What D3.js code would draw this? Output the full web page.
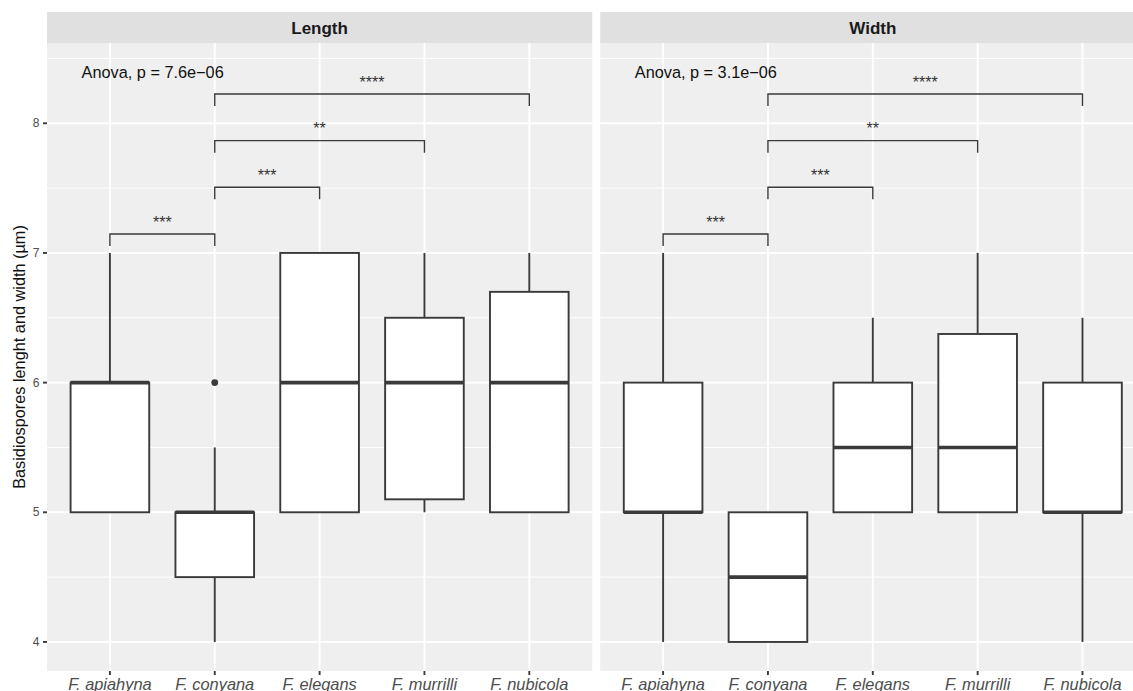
<!DOCTYPE html>
<html>
<head>
<meta charset="utf-8">
<script src="https://cdn.jsdelivr.net/npm/d3@7"></script>
<style>
  body { margin: 0; background: #fff; }
  text { font-family: "Liberation Sans", Arial, sans-serif; }
</style>
</head>
<body>
<script>
const species = ["F. apiahyna", "F. conyana", "F. elegans", "F. murrilli", "F. nubicola"];
const facets = ["Length", "Width"];
// five number summaries: [min, q1, median, q3, max]
const lengthStats = [[5, 5, 6, 6, 7], [4, 4.5, 5, 5, 5.5], [5, 5, 6, 7, 7], [5, 5.1, 6, 6.5, 7], [5, 5, 6, 6.7, 7]];
const widthStats = [[4, 5, 5, 6, 7], [4, 4, 4.5, 5, 5], [5, 5, 5.5, 6, 6.5], [5, 5, 5.5, 6.375, 7], [4, 5, 5, 6, 6.5]];
const lengthOutliers = [[1, 6]];   // [species index, value]
const widthOutliers = [];
const anovaLabels = ["Anova, p = 7.6e\u221206", "Anova, p = 3.1e\u221206"];
const bracketPairs = [[0, 1], [1, 2], [1, 3], [1, 4]];
const bracketY = [7.146, 7.507, 7.866, 8.226];
const bracketLabels = ["***", "***", "**", "****"];
const yTicks = [4, 5, 6, 7, 8];
const yMinor = [4.5, 5.5, 6.5, 7.5, 8.5];

const width = 1133, height = 691;
const panelLeft = 47, panelW = 545.2, gap = 8;
const stripTop = 12, panelTop = 43, panelBottom = 671;
const ink = "#3a3a3a";

const svg = d3.select("body").append("svg")
  .attr("width", width)
  .attr("height", height);

const y = d3.scaleLinear()
  .domain([3.776, 8.619])
  .range([panelBottom, panelTop]);

const x = d3.scalePoint()
  .domain(d3.range(species.length))
  .range([0, panelW])
  .padding(0.6);

const step = x.step();
const boxW = step * 0.75;
const tip = 0.0925; // bracket tip length in data units

const facetData = [
  {name: facets[0], stats: lengthStats, outliers: lengthOutliers, anova: anovaLabels[0]},
  {name: facets[1], stats: widthStats, outliers: widthOutliers, anova: anovaLabels[1]}
];

facetData.forEach(function(f, fi) {
  const g = svg.append("g")
    .attr("transform", "translate(" + (panelLeft + fi * (panelW + gap)) + ",0)");

  // strip
  g.append("rect")
    .attr("x", 0).attr("y", stripTop)
    .attr("width", panelW).attr("height", panelTop - stripTop)
    .attr("fill", "#e0e0e0");
  g.append("text")
    .attr("x", panelW / 2).attr("y", 33.5)
    .attr("text-anchor", "middle")
    .attr("font-size", 17).attr("font-weight", "bold")
    .attr("fill", "#1a1a1a")
    .text(f.name);

  // panel background + grid
  g.append("rect")
    .attr("x", 0).attr("y", panelTop)
    .attr("width", panelW).attr("height", panelBottom - panelTop)
    .attr("fill", "#efefef");

  g.selectAll(".minor").data(yMinor).enter().append("line")
    .attr("x1", 0).attr("x2", panelW)
    .attr("y1", d => y(d)).attr("y2", d => y(d))
    .attr("stroke", "#fff").attr("stroke-width", 1);
  g.selectAll(".major").data(yTicks).enter().append("line")
    .attr("x1", 0).attr("x2", panelW)
    .attr("y1", d => y(d)).attr("y2", d => y(d))
    .attr("stroke", "#fff").attr("stroke-width", 1.9);
  g.selectAll(".vgrid").data(d3.range(species.length)).enter().append("line")
    .attr("x1", d => x(d)).attr("x2", d => x(d))
    .attr("y1", panelTop).attr("y2", panelBottom)
    .attr("stroke", "#fff").attr("stroke-width", 1.9);

  // boxes
  const boxes = g.selectAll(".box").data(f.stats).enter().append("g");
  boxes.append("line")
    .attr("x1", (d, i) => x(i)).attr("x2", (d, i) => x(i))
    .attr("y1", d => y(d[3])).attr("y2", d => y(d[4]))
    .attr("stroke", ink).attr("stroke-width", 1.9);
  boxes.append("line")
    .attr("x1", (d, i) => x(i)).attr("x2", (d, i) => x(i))
    .attr("y1", d => y(d[1])).attr("y2", d => y(d[0]))
    .attr("stroke", ink).attr("stroke-width", 1.9);
  boxes.append("rect")
    .attr("x", (d, i) => x(i) - boxW / 2)
    .attr("y", d => y(d[3]))
    .attr("width", boxW)
    .attr("height", d => y(d[1]) - y(d[3]))
    .attr("fill", "#fff")
    .attr("stroke", ink).attr("stroke-width", 1.9);
  boxes.append("line")
    .attr("x1", (d, i) => x(i) - boxW / 2).attr("x2", (d, i) => x(i) + boxW / 2)
    .attr("y1", d => y(d[2])).attr("y2", d => y(d[2]))
    .attr("stroke", ink).attr("stroke-width", 3.6);

  g.selectAll(".out").data(f.outliers).enter().append("circle")
    .attr("cx", d => x(d[0])).attr("cy", d => y(d[1]))
    .attr("r", 3.4).attr("fill", ink);

  // anova label
  g.append("text")
    .attr("x", x(0) - 0.27 * step).attr("y", y(8.347))
    .attr("font-size", 16.3).attr("fill", "#111")
    .text(f.anova);

  // significance brackets
  bracketPairs.forEach(function(p, bi) {
    const x1 = x(p[0]), x2 = x(p[1]), by = bracketY[bi];
    g.append("path")
      .attr("d", "M" + x1 + "," + y(by - tip) + "V" + y(by) + "H" + x2 + "V" + y(by - tip))
      .attr("fill", "none").attr("stroke", ink).attr("stroke-width", 1.4);
    g.append("text")
      .attr("x", (x1 + x2) / 2).attr("y", y(by + 0.049))
      .attr("text-anchor", "middle")
      .attr("font-size", 16).attr("fill", "#333")
      .text(bracketLabels[bi]);
  });

  // x axis
  const xa = g.append("g").attr("transform", "translate(0," + panelBottom + ")");
  xa.selectAll("line").data(d3.range(species.length)).enter().append("line")
    .attr("x1", d => x(d)).attr("x2", d => x(d))
    .attr("y1", 0).attr("y2", 4)
    .attr("stroke", ink).attr("stroke-width", 1.9);
  xa.selectAll("text").data(species).enter().append("text")
    .attr("x", (d, i) => x(i)).attr("y", 18.5)
    .attr("text-anchor", "middle")
    .attr("font-size", 16.4).attr("font-style", "italic")
    .attr("fill", "#4d4d4d")
    .text(d => d);

  // y axis on the first panel only
  if (fi === 0) {
    const ya = g.append("g");
    ya.selectAll("line").data(yTicks).enter().append("line")
      .attr("x1", -4).attr("x2", 0)
      .attr("y1", d => y(d)).attr("y2", d => y(d))
      .attr("stroke", ink).attr("stroke-width", 1.9);
    ya.selectAll("text").data(yTicks).enter().append("text")
      .attr("x", -7.5).attr("y", d => y(d))
      .attr("dy", "0.35em")
      .attr("text-anchor", "end")
      .attr("font-size", 12).attr("fill", "#4d4d4d")
      .text(d => d);
  }
});

svg.append("text")
  .attr("transform", "translate(25," + ((panelTop + panelBottom) / 2) + ") rotate(-90)")
  .attr("text-anchor", "middle")
  .attr("font-size", 16.3).attr("fill", "#111")
  .text("Basidiospores lenght and width (\u00b5m)");
</script>
</body>
</html>
